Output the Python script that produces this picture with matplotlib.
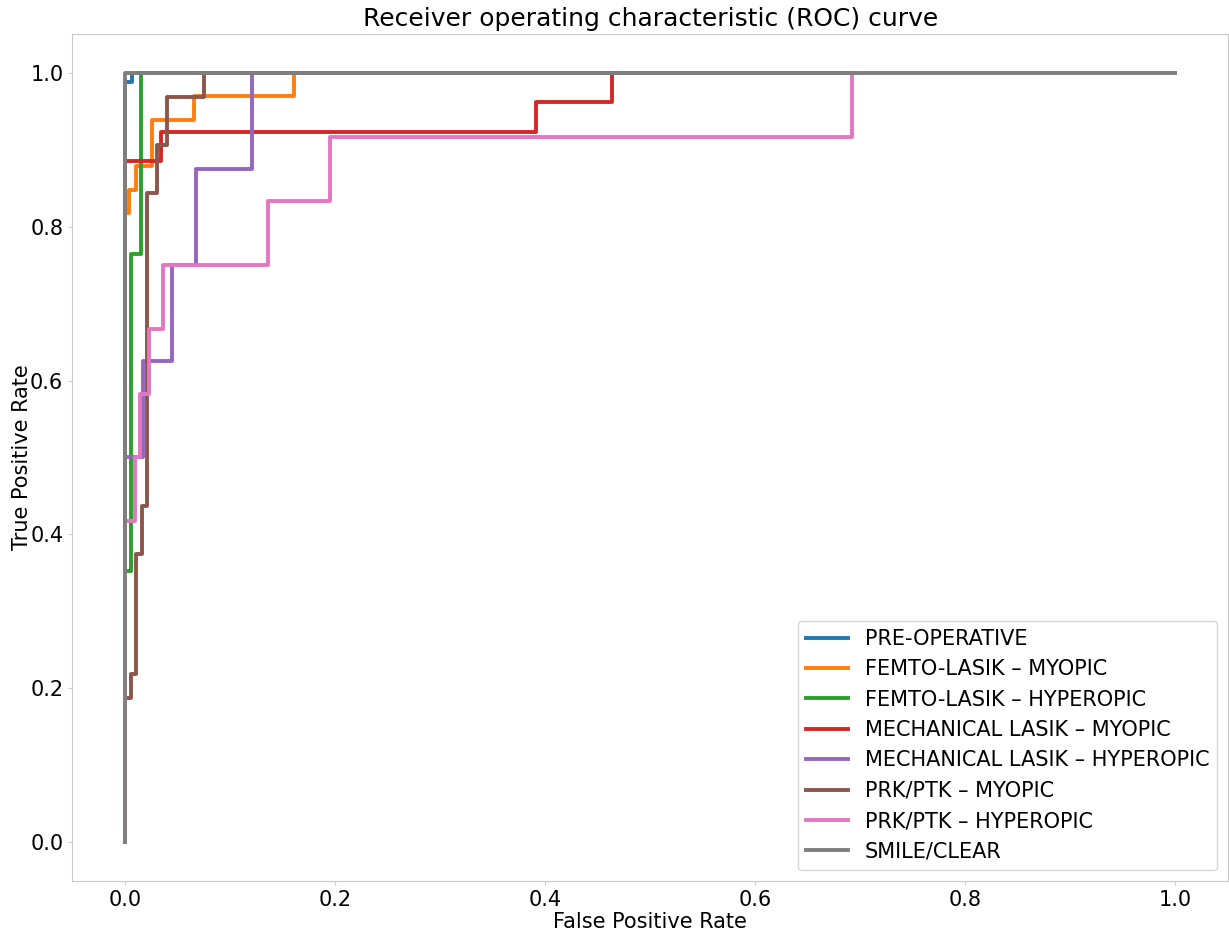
import matplotlib
matplotlib.use("Agg")
import matplotlib.pyplot as plt

labels = ["PRE-OPERATIVE", "FEMTO-LASIK – MYOPIC", "FEMTO-LASIK – HYPEROPIC",
          "MECHANICAL LASIK – MYOPIC", "MECHANICAL LASIK – HYPEROPIC",
          "PRK/PTK – MYOPIC", "PRK/PTK – HYPEROPIC", "SMILE/CLEAR"]
colors = ["#1f77b4", "#ff7f0e", "#2ca02c", "#d62728", "#9467bd", "#8c564b", "#e377c2", "#7f7f7f"]

fpr_pre = [0, 0, 0.007, 0.007, 1]
tpr_pre = [0, 0.988, 0.988, 1, 1]

fpr_femto_myo = [0, 0, 0.004, 0.004, 0.0105, 0.0105, 0.0254, 0.0254, 0.066, 0.066, 0.161, 0.161, 1]
tpr_femto_myo = [0, 0.818, 0.818, 0.848, 0.848, 0.879, 0.879, 0.939, 0.939, 0.970, 0.970, 1, 1]

fpr_femto_hyp = [0, 0, 0.0054, 0.0054, 0.0149, 0.0149, 1]
tpr_femto_hyp = [0, 0.353, 0.353, 0.765, 0.765, 1, 1]

fpr_mech_myo = [0, 0, 0.034, 0.034, 0.391, 0.391, 0.464, 0.464, 1]
tpr_mech_myo = [0, 0.885, 0.885, 0.923, 0.923, 0.962, 0.962, 1, 1]

fpr_mech_hyp = [0, 0, 0.0175, 0.0175, 0.045, 0.045, 0.0675, 0.0675, 0.121, 0.121, 1]
tpr_mech_hyp = [0, 0.5, 0.5, 0.625, 0.625, 0.75, 0.75, 0.875, 0.875, 1, 1]

fpr_prk_myo = [0, 0, 0.0054, 0.0054, 0.0105, 0.0105, 0.0159, 0.0159, 0.0206, 0.0206,
               0.031, 0.031, 0.040, 0.040, 0.0754, 0.0754, 1]
tpr_prk_myo = [0, 0.1875, 0.1875, 0.219, 0.219, 0.375, 0.375, 0.4375, 0.4375, 0.844,
               0.844, 0.906, 0.906, 0.969, 0.969, 1, 1]

fpr_prk_hyp = [0, 0, 0.0095, 0.0095, 0.0143, 0.0143, 0.0231, 0.0231, 0.0365, 0.0365,
               0.136, 0.136, 0.1955, 0.1955, 0.692, 0.692, 1]
tpr_prk_hyp = [0, 0.417, 0.417, 0.5, 0.5, 0.583, 0.583, 0.667, 0.667, 0.75,
               0.75, 0.833, 0.833, 0.917, 0.917, 1, 1]

fpr_smile = [0, 0, 1]
tpr_smile = [0, 1, 1]

fprs = [fpr_pre, fpr_femto_myo, fpr_femto_hyp, fpr_mech_myo, fpr_mech_hyp, fpr_prk_myo, fpr_prk_hyp, fpr_smile]
tprs = [tpr_pre, tpr_femto_myo, tpr_femto_hyp, tpr_mech_myo, tpr_mech_hyp, tpr_prk_myo, tpr_prk_hyp, tpr_smile]

fig = plt.figure(figsize=(12.29, 9.31), dpi=100)
ax = fig.add_axes([72.4 / 1229, 50.5 / 931, 1155.5 / 1229, 846 / 931])
for f, t, lab, c in zip(fprs, tprs, labels, colors):
    ax.plot(f, t, color=c, lw=2.8, label=lab)

ax.set_title("Receiver operating characteristic (ROC) curve", fontsize=18)
ax.set_xlabel("False Positive Rate", fontsize=15, labelpad=2)
ax.set_ylabel("True Positive Rate", fontsize=15, labelpad=-1.5)
ax.tick_params(labelsize=15, length=3, color="#cccccc")
for s in ax.spines.values():
    s.set_color("#c8c8c8")
ax.legend(loc="lower right", fontsize=15)
fig.savefig("out.png", dpi=100)
